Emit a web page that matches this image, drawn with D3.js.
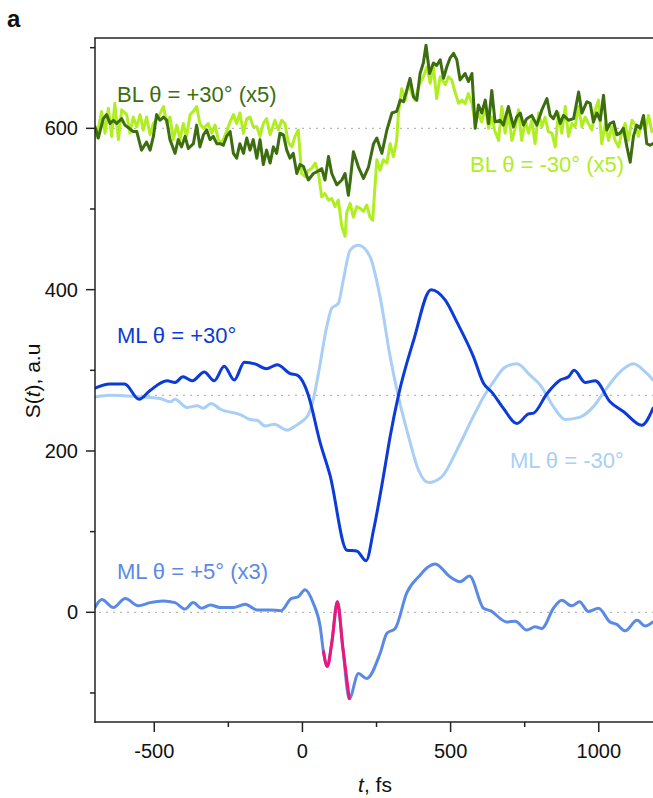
<!DOCTYPE html>
<html><head><meta charset="utf-8">
<script src="https://cdn.jsdelivr.net/npm/d3@7"></script>
<style>
body{margin:0;background:#fff;}
svg{display:block;font-family:"Liberation Sans",Arial,Helvetica,sans-serif;}
</style></head>
<body>
<svg id="chart" width="653" height="798"></svg>
<script>
// ---------- data ----------
const blPlusT = [-700,-689,-672,-661,-649,-638,-627,-610,-599,-588,-571,-559,-543,-526,-514,-503,-492,-481,-469,-458,-447,-430,-419,-408,-396,-385,-368,-357,-346,-334,-323,-312,-301,-289,-278,-267,-256,-244,-233,-222,-211,-199,-188,-177,-166,-154,-143,-132,-121,-109,-98,-87,-76,-64,-53,-42,-31,-19,-8,3,20,37,48,65,76,88,99,116,133,144,155,161,172,189,206,223,240,251,268,285,302,318,330,341,352,363,375,386,397,408,417,429,442,453,465,476,487,498,510,521,532,549,560,572,583,594,605,617,628,639,650,667,678,695,712,723,735,746,757,774,791,808,825,836,847,858,870,881,898,915,932,943,960,971,982,993,1005,1016,1027,1038,1050,1061,1072,1083,1095,1106,1117,1128,1140,1151,1162,1173,1182];
const blPlusV = [602,588,612,617,606,610,606,612,604,601,596,596,573,583,573,590,617,610,614,610,586,569,586,577,590,575,581,604,577,592,598,586,590,581,581,579,590,596,569,563,581,569,588,573,586,563,586,555,573,557,577,569,594,592,573,563,569,544,555,553,536,544,546,550,536,565,544,530,536,544,517,534,571,552,538,552,581,588,569,598,619,621,635,633,647,662,639,635,668,681,703,668,681,678,685,662,676,687,693,685,660,668,658,668,600,629,619,635,606,647,608,610,604,627,602,614,619,604,612,616,604,623,637,616,612,621,606,616,610,612,645,619,633,631,608,619,610,641,598,606,608,592,594,600,577,558,590,604,600,616,581,579,581];

const blMinusT = [-700,-689,-678,-666,-655,-644,-633,-621,-610,-593,-582,-571,-559,-548,-537,-526,-514,-503,-486,-469,-458,-447,-436,-424,-413,-402,-391,-379,-368,-357,-346,-334,-318,-306,-295,-284,-273,-256,-244,-233,-222,-211,-199,-188,-177,-166,-154,-143,-132,-121,-109,-93,-81,-70,-59,-48,-36,-25,-14,-3,9,20,31,43,54,65,76,88,99,110,121,133,144,149,161,172,183,194,206,217,228,237,251,262,273,285,296,307,318,324,335,347,358,369,380,392,408,420,431,442,453,465,482,493,504,515,527,538,549,560,572,583,594,605,617,628,639,650,662,673,684,695,707,718,729,740,752,763,774,785,797,808,819,830,842,853,864,875,887,898,909,920,932,943,954,965,977,988,999,1010,1022,1033,1044,1055,1067,1078,1089,1100,1112,1123,1134,1145,1157,1168,1179];
const blMinusV = [588,598,621,594,625,590,631,586,623,617,594,614,602,617,598,614,592,606,614,627,606,614,586,604,586,606,590,617,621,627,606,600,606,594,604,586,581,596,608,617,606,619,594,612,614,602,602,590,606,612,592,610,598,610,606,583,577,590,598,544,540,548,550,557,544,515,519,511,513,503,511,478,466,495,507,490,503,501,497,505,490,486,561,548,561,557,581,565,585,619,649,635,656,643,635,652,664,676,656,676,637,664,654,664,660,645,631,635,631,643,631,606,619,608,627,600,614,596,585,627,594,619,585,600,623,585,610,594,610,581,619,602,614,596,594,577,619,594,627,590,606,602,627,602,614,606,598,623,635,581,606,585,602,585,577,596,606,585,610,604,590,608,598,616,596];

const mlPlusT = [-700,-650,-600,-551,-514,-457,-430,-403,-372,-331,-298,-264,-230,-196,-160,-122,-85,-41,-18,9,20,60,93,150,183,215,240,273,296,324,375,434,482,521,577,611,639,678,724,763,780,825,870,898,917,954,988,1038,1083,1145,1183];
const mlPlusV = [278,283,283,264,275,287,285,292,287,298,287,305,288,310,308,302,307,296,294,280,269,210,170,77,76,64,102,168,218,269,337,400,387,360,317,284,273,253,234,246,247,271,288,292,300,285,287,261,249,232,253];

const mlMinusT = [-700,-650,-547,-480,-446,-430,-390,-355,-335,-308,-278,-210,-176,-153,-126,-95,-52,-20,3,20,36,54,82,99,121,138,161,189,228,262,296,324,358,392,425,470,521,577,611,645,684,724,768,802,847,887,937,982,1027,1072,1117,1157,1183];
const mlMinusV = [267,269,267,265,261,264,254,256,253,259,252,245,239,238,231,233,226,232,238,245,263,296,354,377,383,412,449,455,441,391,317,267,218,176,161,168,201,243,267,286,304,308,294,282,255,239,242,255,278,298,308,298,288];

const ml5T = [-700,-677,-638,-598,-554,-514,-470,-430,-396,-369,-340,-311,-278,-233,-193,-154,-109,-72,-38,-15,9,37,60,71,84,99,118,136,158,189,217,262,285,313,352,397,420,448,498,532,564,611,634,690,718,757,785,808,847,875,909,935,965,999,1038,1061,1089,1129,1157,1183];
const ml5V = [6,16,6,17,8,12,14,12,4,12,5,9,6,6,10,3,3,2,17,19,28,11,-18,-49,-67,-38,13,-43,-107,-76,-82,-51,-26,-20,24,46,55,60,44,38,45,5,2,-12,-11,-22,-18,-20,5,15,8,13,1,5,-12,-15,-23,-10,-17,-12];
const ml5Highlight = [71,158];

const xMajorTicks = [-500,0,500,1000];
const xMinorTicks = [-250,250,750];
const yMajorTicks = [0,200,400,600];
const yMinorTicks = [-100,100,300,500,700];
const baselines = [600,269,0];

const labels = [
  {text:"BL θ = +30° (x5)", color:"#3c6e10", x:117, y:102},
  {text:"BL θ = -30° (x5)", color:"#b0ee22", x:470, y:172},
  {text:"ML θ = +30°", color:"#0b3bd8", x:117, y:343},
  {text:"ML θ = -30°", color:"#a9cff6", x:510, y:468},
  {text:"ML θ = +5° (x3)", color:"#5b8ae6", x:117, y:579}
];

// ---------- layout ----------
const svg = d3.select("#chart");
const L = 95, R = 653, T = 38, B = 722;
const x = d3.scaleLinear().domain([-700,1183]).range([L,R]);
const y = d3.scaleLinear().domain([-136,712]).range([B,T]);

svg.append("defs").append("clipPath").attr("id","clip")
  .append("rect").attr("x",L).attr("y",T).attr("width",R-L+5).attr("height",B-T);

const plot = svg.append("g").attr("clip-path","url(#clip)");

// dotted baselines
plot.selectAll("line.base").data(baselines).enter().append("line")
  .attr("x1",L+4).attr("x2",R+5)
  .attr("y1",d=>y(d)).attr("y2",d=>y(d))
  .attr("stroke","#b8b8b8").attr("stroke-width",1.3).attr("stroke-dasharray","2,5");

const zip = (T_, V_) => T_.map((t,i)=>({t, v:V_[i]}));
const lin = d3.line().x(d=>x(d.t)).y(d=>y(d.v)).curve(d3.curveLinear);
const smooth = d3.line().x(d=>x(d.t)).y(d=>y(d.v)).curve(d3.curveMonotoneX);

function draw(gen, data, color, w){
  plot.append("path").datum(data).attr("d",gen).attr("fill","none")
    .attr("stroke",color).attr("stroke-width",w)
    .attr("stroke-linejoin","round").attr("stroke-linecap","round");
}
draw(lin, zip(blMinusT, blMinusV), "#b0ee22", 3);
draw(lin, zip(blPlusT, blPlusV), "#3c6e10", 3);
draw(smooth, zip(mlMinusT, mlMinusV), "#a9cff6", 3);
draw(smooth, zip(mlPlusT, mlPlusV), "#0b3bd8", 3);
const d5 = zip(ml5T, ml5V);
draw(smooth, d5, "#5b8ae6", 3);
draw(smooth, d5.filter(d=>d.t>=ml5Highlight[0] && d.t<=ml5Highlight[1]), "#f0157a", 3);

// axes frame
const ax = svg.append("g").attr("stroke","#222").attr("stroke-width",1.5);
ax.append("line").attr("x1",L).attr("x2",L).attr("y1",T).attr("y2",B+0.75);
ax.append("line").attr("x1",L-0.75).attr("x2",R+5).attr("y1",B).attr("y2",B);
ax.append("line").attr("x1",L-0.75).attr("x2",R+5).attr("y1",T).attr("y2",T);
// ticks
ax.selectAll(null).data(xMajorTicks).enter().append("line")
  .attr("x1",d=>x(d)).attr("x2",d=>x(d)).attr("y1",B).attr("y2",B+10);
ax.selectAll(null).data(xMinorTicks).enter().append("line")
  .attr("x1",d=>x(d)).attr("x2",d=>x(d)).attr("y1",B).attr("y2",B+5);
ax.selectAll(null).data(yMajorTicks).enter().append("line")
  .attr("y1",d=>y(d)).attr("y2",d=>y(d)).attr("x1",L).attr("x2",L-9);
ax.selectAll(null).data(yMinorTicks).enter().append("line")
  .attr("y1",d=>y(d)).attr("y2",d=>y(d)).attr("x1",L).attr("x2",L-5);

// tick labels
svg.selectAll("text.xt").data(xMajorTicks).enter().append("text")
  .attr("x",d=>x(d)).attr("y",758).attr("text-anchor","middle")
  .attr("font-size",20).attr("fill","#111").text(d=>d);
svg.selectAll("text.yt").data(yMajorTicks).enter().append("text")
  .attr("x",78).attr("y",d=>y(d)+7).attr("text-anchor","end")
  .attr("font-size",20).attr("fill","#111").text(d=>d);

// axis titles
const yl = svg.append("text").attr("transform","translate(40,381) rotate(-90)")
  .attr("text-anchor","middle").attr("font-size",21).attr("fill","#111");
yl.append("tspan").text("S(");
yl.append("tspan").attr("font-style","italic").text("t");
yl.append("tspan").text("), a.u");
const xl = svg.append("text").attr("x",375).attr("y",792)
  .attr("text-anchor","middle").attr("font-size",21).attr("fill","#111");
xl.append("tspan").attr("font-style","italic").text("t");
xl.append("tspan").text(", fs");

svg.append("text").attr("x",7).attr("y",27).attr("font-size",24)
  .attr("font-weight","bold").attr("fill","#111").text("a");

// series labels
svg.selectAll("text.lab").data(labels).enter().append("text")
  .attr("x",d=>d.x).attr("y",d=>d.y).attr("font-size",22)
  .attr("fill",d=>d.color).text(d=>d.text);
</script>
</body></html>
